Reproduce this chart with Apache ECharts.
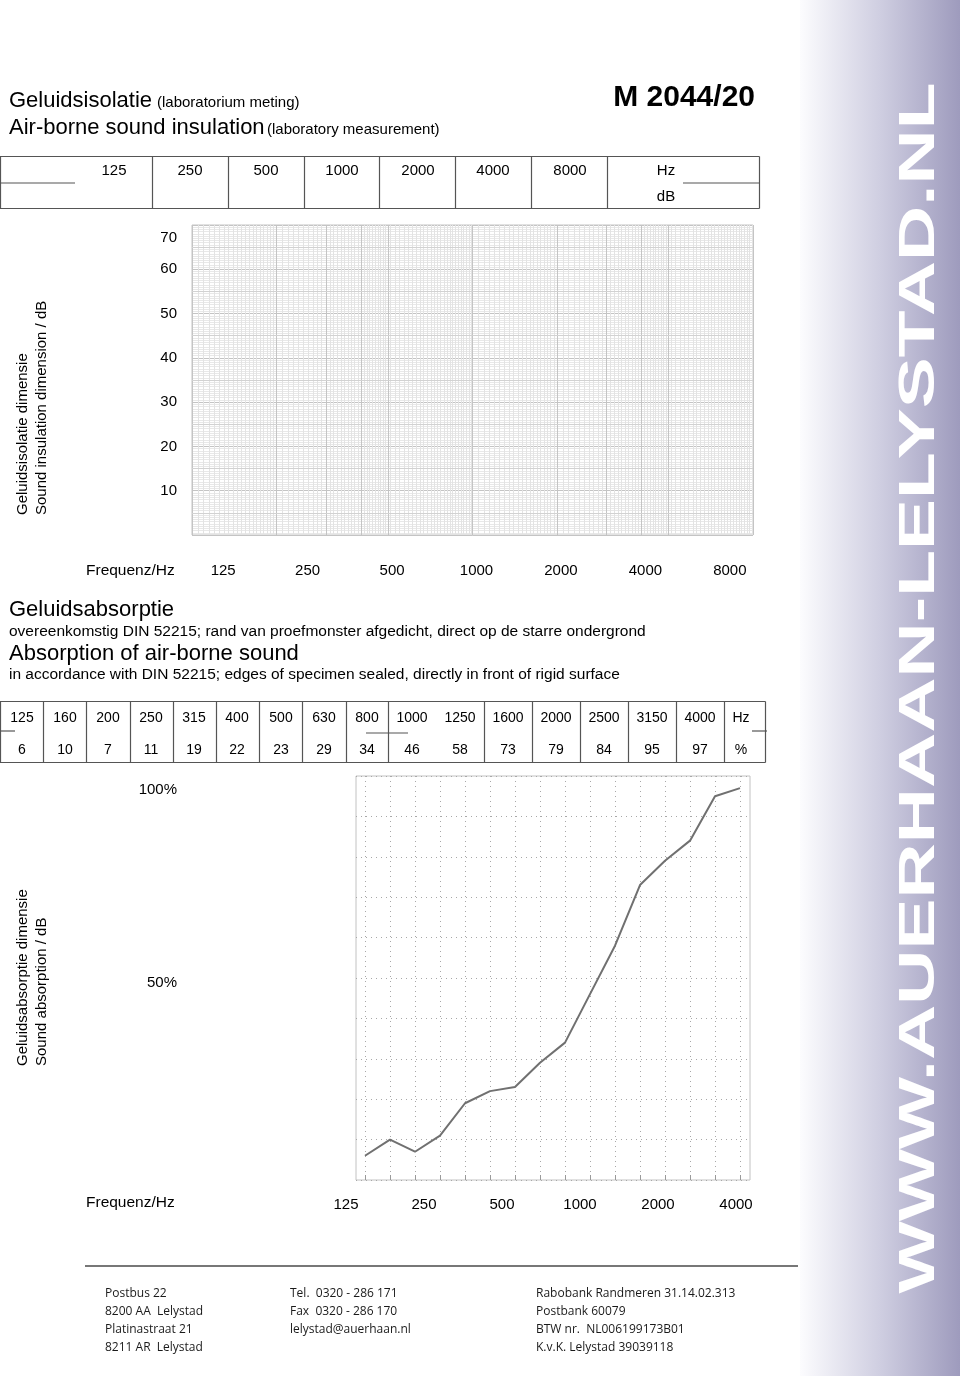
<!DOCTYPE html>
<html><head><meta charset="utf-8">
<script src="https://cdn.jsdelivr.net/npm/echarts@6/dist/echarts.min.js"></script>
<style>html,body{margin:0;padding:0;background:#fff}#c{width:960px;height:1376px}</style>
</head><body><div id="c"></div>
<script>
// ---------- data ----------
const isoFreqLabels = ['125', '250', '500', '1000', '2000', '4000', '8000'];
const isoFreqValues = [125, 250, 500, 1000, 2000, 4000, 8000];
const isoDbMax = 70;
const absFreqs = ['125', '160', '200', '250', '315', '400', '500', '630', '800', '1000', '1250', '1600', '2000', '2500', '3150', '4000'];
const absValues = [6, 10, 7, 11, 19, 22, 23, 29, 34, 46, 58, 73, 79, 84, 95, 97];
const absAxisLabels = ['125', '250', '500', '1000', '2000', '4000'];
const absPctLabels = { 100: '100%', 50: '50%' };

// ---------- layout constants ----------
const FF = '"Liberation Sans", Arial, sans-serif';
const headCols = [0.5, 152.5, 228.5, 304.5, 379.5, 455.5, 531.5, 607.5, 759.5];
const headTextX = [114, 190, 266, 342, 418, 493, 570];
const absCols = [0.5, 43.5, 86.5, 130.5, 173.5, 216.5, 259.5, 302.5, 346.5, 388.5, 484.5, 532.5, 580.5, 628.5, 676.5, 724.5, 765.5];
const absTextX = [22, 65, 108, 151, 194, 237, 281, 324, 367, 412, 460, 508, 556, 604, 652, 700];

const chart = echarts.init(document.getElementById('c'), null, { renderer: 'canvas' });

function txt(x, y, text, size, o) {
  o = o || {};
  return {
    type: 'text', x: x, y: y, silent: true, rotation: o.rot || 0, scaleX: o.sx || 1,
    style: {
      text: text, fontSize: size, fontFamily: o.ff || FF, fontWeight: o.fw || 'normal',
      fill: o.color || '#000', textAlign: o.align || 'left', textVerticalAlign: 'middle'
    }
  };
}
function ln(x1, y1, x2, y2, w, c) {
  return { type: 'line', silent: true, shape: { x1: x1, y1: y1, x2: x2, y2: y2 }, style: { stroke: c || '#555', lineWidth: w || 1 } };
}

const g = [];
// sidebar
g.push({
  type: 'rect', silent: true, z: -10, shape: { x: 800, y: 0, width: 160, height: 1376 },
  style: { fill: new echarts.graphic.LinearGradient(0, 0, 1, 0, [
    { offset: 0, color: '#fcfcfe' }, { offset: 0.5, color: '#cfcee1' }, { offset: 1, color: '#9e9bbd' }]) }
});
g.push(txt(920, 688, 'WWW.AUERHAAN-LELYSTAD.NL', 50, { rot: Math.PI / 2, sx: 1.53, fw: 'bold', color: '#ffffff', align: 'center' }));

// headings
g.push(txt(9, 101, 'Geluidsisolatie', 22));
g.push(txt(157, 103, '(laboratorium meting)', 15));
g.push(txt(9, 128, 'Air-borne sound insulation', 22));
g.push(txt(267, 130, '(laboratory measurement)', 15));
g.push(txt(755, 98, 'M 2044/20', 30, { fw: 'bold', align: 'right' }));

// header table
g.push(ln(0, 156.5, 759.5, 156.5, 1.2));
g.push(ln(0, 208.5, 759.5, 208.5, 1.2));
headCols.forEach(function (x) { g.push(ln(x, 156.5, x, 208.5, 1.2)); });
g.push(ln(0, 183, 75, 183, 1.2));
g.push(ln(683, 183, 759.5, 183, 1.2));
isoFreqLabels.forEach(function (t, i) { g.push(txt(headTextX[i], 170.5, t, 15, { align: 'center' })); });
g.push(txt(666, 170.5, 'Hz', 15, { align: 'center' }));
g.push(txt(666, 196.5, 'dB', 15, { align: 'center' }));

// side labels
g.push(txt(23, 515, 'Geluidsisolatie dimensie', 15, { rot: Math.PI / 2 }));
g.push(txt(42, 515, 'Sound insulation dimension / dB', 15, { rot: Math.PI / 2 }));
g.push(txt(23, 1066, 'Geluidsabsorptie dimensie', 15, { rot: Math.PI / 2 }));
g.push(txt(42, 1066, 'Sound absorption / dB', 15, { rot: Math.PI / 2 }));

g.push(txt(86, 571, 'Frequenz/Hz', 15.5));
g.push(txt(86, 1203, 'Frequenz/Hz', 15.5));

// absorption heading
g.push(txt(9, 610, 'Geluidsabsorptie', 22));
g.push(txt(9, 632, 'overeenkomstig DIN 52215; rand van proefmonster afgedicht, direct op de starre ondergrond', 15.5));
g.push(txt(9, 654, 'Absorption of air-borne sound', 22));
g.push(txt(9, 675, 'in accordance with DIN 52215; edges of specimen sealed, directly in front of rigid surface', 15.5));

// absorption table
g.push(ln(0, 701.5, 765.5, 701.5, 1.2));
g.push(ln(0, 762.5, 765.5, 762.5, 1.2));
absCols.forEach(function (x) { g.push(ln(x, 701.5, x, 762.5, 1.2)); });
g.push(ln(0, 731, 15, 731, 1.2));
g.push(ln(366, 733, 408, 733, 1.2));
g.push(ln(752, 731, 767, 731, 1.2));
absFreqs.forEach(function (t, i) {
  g.push(txt(absTextX[i], 718.5, t, 14, { align: 'center' }));
  g.push(txt(absTextX[i], 750.5, String(absValues[i]), 14, { align: 'center' }));
});
g.push(txt(741, 718.5, 'Hz', 14, { align: 'center' }));
g.push(txt(741, 750.5, '%', 14, { align: 'center' }));

// footer
g.push(ln(85, 1266, 798, 1266, 2, '#777'));
const footer = [
  [105, ['Postbus 22', '8200 AA  Lelystad', 'Platinastraat 21', '8211 AR  Lelystad']],
  [290, ['Tel.  0320 - 286 171', 'Fax  0320 - 286 170', 'lelystad@auerhaan.nl']],
  [536, ['Rabobank Randmeren 31.14.02.313', 'Postbank 60079', 'BTW nr.  NL006199173B01', 'K.v.K. Lelystad 39039118']]
];
footer.forEach(function (col) {
  col[1].forEach(function (t, r) { g.push(txt(col[0], 1294 + r * 18, t, 12, { ff: '"Open Sans", sans-serif', color: '#1a1a1a' })); });
});

// graph-paper lines for the upper (log-frequency) chart
const paper = [];
[100, 1000].forEach(function (d) {
  for (let m = 1; m < 10; m += (m < 2 ? 0.05 : (m < 5 ? 0.1 : 0.2))) {
    const mm = Math.round(m * 100) / 100;
    const major = Math.abs(mm - Math.round(mm)) < 1e-6;
    if (mm === 1) continue;
    paper.push({ xAxis: mm * d, lineStyle: { color: major ? '#c4c4c4' : '#e3e3e3', width: 1, type: 'solid' } });
  }
});
for (let v = 5; v < isoDbMax; v += 10) paper.push({ yAxis: v, lineStyle: { color: '#d2d2d2', width: 1, type: 'solid' } });

const option = {
  animation: false,
  backgroundColor: '#ffffff',
  textStyle: { fontFamily: FF },
  grid: [
    { left: 192, top: 225, width: 561, height: 310, show: true, borderColor: '#c4c4c4', borderWidth: 1 },
    { left: 356, top: 776, width: 394, height: 404, show: true, borderColor: '#c2c2c2', borderWidth: 1 },
    { left: 365, top: 776, width: 375, height: 404 },
    { left: 346, top: 1193, width: 390, height: 1 }
  ],
  xAxis: [
    { gridIndex: 0, type: 'log', logBase: 10, min: 100, max: 10000, axisLine: { show: false }, axisTick: { show: false }, axisLabel: { show: false },
      splitLine: { show: true, lineStyle: { color: '#c4c4c4' } } },
    { gridIndex: 1, type: 'value', min: 0, max: 1, show: false },
    { gridIndex: 2, type: 'value', min: 0, max: absFreqs.length - 1, interval: 1, axisLine: { show: false },
      axisTick: { show: true, inside: true, length: 5, lineStyle: { color: '#999' } }, axisLabel: { show: false },
      splitLine: { show: true, lineStyle: { color: '#a8a8a8', type: [1, 4] } } },
    { gridIndex: 3, type: 'value', min: 0, max: absAxisLabels.length - 1, interval: 1, axisLine: { show: false }, axisTick: { show: false },
      splitLine: { show: false }, axisLabel: { margin: 3, fontSize: 15, color: '#000', formatter: function (v) { return absAxisLabels[v] || ''; } } }
  ],
  yAxis: [
    { gridIndex: 0, type: 'value', min: 0, max: isoDbMax, interval: 10, axisLine: { show: false }, axisTick: { show: false },
      axisLabel: { margin: 15, fontSize: 15, color: '#000', formatter: function (v) { return v === 0 ? '' : (v === isoDbMax ? '{t|' + v + '}' : String(v)); },
        rich: { t: { fontSize: 15, color: '#000', padding: [26, 0, 0, 0] } } },
      splitLine: { show: true, lineStyle: { color: '#c4c4c4' } },
      minorTick: { show: false, splitNumber: 20 }, minorSplitLine: { show: true, lineStyle: { color: '#e8e8e8' } } },
    { gridIndex: 1, type: 'value', min: 0, max: 100, interval: 10, axisLine: { show: false }, axisTick: { show: false },
      axisLabel: { margin: 179, fontSize: 15, color: '#000',
        formatter: function (v) { return v === 100 ? '{a|' + absPctLabels[100] + '}' : (v === 50 ? '{b|' + absPctLabels[50] + '}' : ''); },
        rich: { a: { fontSize: 15, color: '#000', padding: [28, 0, 0, 0] }, b: { fontSize: 15, color: '#000', padding: [9, 0, 0, 0] } } },
      splitLine: { show: true, lineStyle: { color: '#a8a8a8', type: [1, 4] } } },
    { gridIndex: 2, type: 'value', min: 0, max: 100, show: false },
    { gridIndex: 3, type: 'value', min: 0, max: 1, show: false }
  ],
  series: [
    { type: 'line', xAxisIndex: 0, yAxisIndex: 0, data: [], silent: true,
      markLine: { silent: true, symbol: ['none', 'none'], label: { show: false }, animation: false, data: paper } },
    { type: 'line', xAxisIndex: 2, yAxisIndex: 2, silent: true, symbol: 'none',
      lineStyle: { color: '#707070', width: 2 },
      data: absValues.map(function (v, i) { return [i, v]; }) }
  ],
  graphic: { elements: g }
};
chart.setOption(option);

// frequency labels of the upper chart, positioned through its log axis
const freqLabelEls = isoFreqValues.map(function (f, i) {
  const px = chart.convertToPixel({ xAxisIndex: 0 }, f);
  return txt(px + 4, 571, isoFreqLabels[i], 15, { align: 'center' });
});
chart.setOption({ graphic: { elements: g.concat(freqLabelEls) } });
</script>
</body></html>
